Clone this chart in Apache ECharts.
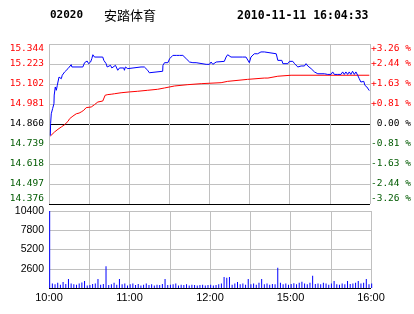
<!DOCTYPE html>
<html><head><meta charset="utf-8">
<script src="https://cdn.jsdelivr.net/npm/echarts@6/dist/echarts.min.js"></script>
<style>html,body{margin:0;padding:0;background:#fff}#c{width:414px;height:314px}</style>
</head><body><div id="c"></div>
<script>
// ---- data ----
var stockCode = '02020';
var stockName = '安踏体育';
var stamp = '2010-11-11 16:04:33';
var prevClose = 14.860;
var timeTicks = ['10:00', '', '11:00', '', '12:00', '', '15:00', '', '16:00'];
var priceTicks = ['14.376', '14.497', '14.618', '14.739', '14.860', '14.981', '15.102', '15.223', '15.344'];
var pctTicks = ['-3.26 %', '-2.44 %', '-1.63 %', '-0.81 %', ' 0.00 %', '+0.81 %', '+1.63 %', '+2.44 %', '+3.26 %'];
var volTicks = ['', '2600', '5200', '7800', '10400'];
// minute of session (0..240), price
var priceLine = [
 [1,14.79],[1.2,14.862],[1.7,14.922],[2.7,14.953],[3.7,14.983],[3.9,15.035],[4.2,15.043],[4.7,15.084],
 [5.5,15.064],[6.2,15.094],[6.7,15.114],[7.5,15.144],[8.2,15.149],[9.2,15.134],[9.9,15.155],[10.9,15.161],
 [11.7,15.175],[12.9,15.185],[14.2,15.195],[14.9,15.205],[16.6,15.219],[17.1,15.205],[25.3,15.205],
 [26.6,15.231],[27.8,15.225],[28.5,15.241],[29.6,15.225],[31.1,15.235],[32,15.255],[32.8,15.279],
 [34,15.265],[40.2,15.265],[41,15.245],[42.7,15.225],[43.5,15.205],[44.5,15.215],[46,15.215],[47,15.199],
 [48.4,15.199],[49.7,15.215],[50.7,15.205],[51.4,15.185],[52.7,15.199],[55.9,15.199],[56.4,15.185],
 [57.1,15.205],[58.9,15.195],[60.1,15.205],[68.8,15.205],[70,15.199],[71.3,15.205],[72.5,15.199],
 [73.8,15.185],[75,15.170],[76.2,15.179],[85,15.179],[85.2,15.215],[86.4,15.231],[87.7,15.241],
 [88.9,15.231],[90.2,15.255],[91.4,15.265],[92.6,15.275],[93.9,15.265],[95.2,15.275],[96.4,15.265],
 [97.6,15.275],[98.9,15.265],[100.1,15.275],[101.3,15.265],[102.6,15.255],[103.8,15.251],[105.1,15.235],
 [106.3,15.225],[107.6,15.231],[108.8,15.221],[110,15.231],[111.3,15.221],[117.5,15.221],[118.7,15.231],
 [120,15.221],[121.2,15.235],[122.5,15.221],[123.7,15.231],[125,15.235],[126.2,15.239],[131.1,15.239],
 [132.4,15.265],[133.6,15.279],[134.9,15.275],[136.1,15.265],[144.8,15.265],[146,15.255],[147.3,15.265],
 [148.5,15.265],[149.8,15.231],[150.5,15.219],[151,15.265],[152.3,15.275],[153.5,15.285],[156,15.285],
 [157.2,15.279],[158.5,15.296],[159.7,15.300],[161,15.296],[162.4,15.285],[169.9,15.285],[170.5,15.265],
 [171.1,15.245],[174.1,15.245],[174.9,15.225],[178.6,15.225],[179.8,15.239],[181,15.231],[182.3,15.239],
 [183.6,15.225],[184.8,15.215],[186.1,15.205],[187.3,15.215],[188.5,15.211],[189.8,15.219],[191,15.211],
 [192.2,15.225],[193.5,15.211],[194.7,15.205],[196,15.195],[197.2,15.185],[198.5,15.175],[199.7,15.175],
 [201,15.164],[202.2,15.175],[203.4,15.164],[204.7,15.175],[205.9,15.164],[207.1,15.175],[208.4,15.160],
 [210.9,15.160],[212.1,15.175],[213.4,15.160],[215.9,15.160],[218.3,15.160],[219.6,15.175],[220.8,15.160],
 [222,15.175],[223.3,15.160],[224.5,15.175],[225.7,15.160],[227,15.179],[228.3,15.160],[229.5,15.175],
 [230.8,15.155],[232,15.134],[233.2,15.114],[234.5,15.104],[235.4,15.118],[236.2,15.094],[237.7,15.084],
 [238.5,15.074],[239.5,15.062]
];
var avgLine = [
 [1,14.787],[4.2,14.812],[6.7,14.828],[9.2,14.842],[11.7,14.856],[14.2,14.876],[15.4,14.892],[17.9,14.908],
 [20.4,14.922],[22.5,14.926],[24.1,14.933],[26,14.943],[27.8,14.959],[31.6,14.963],[34,14.977],[36.5,14.993],
 [40.2,14.999],[42,15.034],[44,15.038],[46.5,15.040],[48.9,15.043],[53.9,15.049],[60.1,15.054],[66.3,15.058],
 [73.8,15.064],[81.2,15.070],[86.4,15.078],[93.9,15.090],[103.8,15.098],[113.8,15.104],[128.7,15.110],
 [133.6,15.118],[148.5,15.130],[161,15.138],[163.7,15.138],[165,15.149],[171.1,15.149],[172.4,15.153],
 [181,15.155],[239.5,15.155]
];
// volume per 2-minute step (minute = index*2)
var volumes = [
 10400,600,500,700,450,800,550,1200,600,500,450,600,750,950,350,400,550,600,1200,450,
 550,2950,400,500,700,450,1200,500,600,350,500,600,400,550,350,450,600,400,500,350,
 450,400,550,1200,400,450,500,600,350,450,400,500,350,450,400,350,400,450,350,400,
 450,350,400,500,600,1500,1400,1500,450,600,800,500,600,450,1200,500,600,450,700,1200,
 500,600,450,550,500,2750,700,500,600,450,550,650,500,700,850,600,500,700,1650,550,
 600,500,700,600,450,600,950,500,450,600,500,950,550,600,700,950,600,700,1200,500,600
];

// ---- chart ----
var GRAY = '#c0c0c0', RED = '#ff0000', GREEN = '#005a00';
function rel(p) { return Math.round((p - prevClose) * 100000) / 100; }
function tickIdx(v) { return Math.round((v + 484) / 121); }
function sideColor(v) { return v > 0.5 ? RED : (v < -0.5 ? GREEN : '#000'); }
var monoFont = 'DejaVu Sans Mono';

var chart = echarts.init(document.getElementById('c'), null, {renderer: 'canvas'});
chart.setOption({
  animation: false,
  backgroundColor: '#fff',
  title: [
    {text: stockCode, left: 50, top: 10, padding: 0, textStyle: {fontFamily: 'DejaVu Sans Mono', fontWeight: 'bold', fontSize: 11, color: '#000'}},
    {text: stockName, left: 104, top: 9, padding: 0, textStyle: {fontFamily: 'Noto Sans CJK SC', fontWeight: 'normal', fontSize: 13, color: '#000'}},
    {text: stamp, left: 237, top: 10, padding: 0, textStyle: {fontFamily: 'DejaVu Sans Mono', fontWeight: 'bold', fontSize: 11.5, color: '#000'}}
  ],
  grid: [
    {left: 49, top: 44, width: 322, height: 160},
    {left: 49, top: 211, width: 322, height: 77}
  ],
  xAxis: [
    {type: 'value', gridIndex: 0, min: 0, max: 240, interval: 30,
     axisLine: {show: false}, axisTick: {show: false}, axisLabel: {show: false},
     splitLine: {show: true, lineStyle: {color: GRAY, width: 1}}},
    {type: 'value', gridIndex: 1, min: 0, max: 240, interval: 30,
     axisLine: {show: false}, axisTick: {show: false},
     axisLabel: {show: true, margin: 4, fontFamily: 'Liberation Sans', fontSize: 11, color: '#000',
       formatter: function (v) { return timeTicks[Math.round(v / 30)] || ''; }},
     splitLine: {show: true, lineStyle: {color: GRAY, width: 1}}}
  ],
  yAxis: [
    {type: 'value', gridIndex: 0, position: 'left', min: -484, max: 484, interval: 121,
     axisLine: {show: false}, axisTick: {show: false},
     axisLabel: {margin: 5, fontFamily: monoFont, fontSize: 9.5,
       verticalAlignMaxLabel: 'top', verticalAlignMinLabel: 'bottom',
       formatter: function (v) { return priceTicks[tickIdx(v)]; },
       color: function (v) { return sideColor(v); }},
     splitLine: {show: true, lineStyle: {width: 1,
       color: ['#000', GRAY, GRAY, GRAY, '#000', GRAY, GRAY, GRAY, GRAY]}}},
    {type: 'value', gridIndex: 0, position: 'right', min: -484, max: 484, interval: 121,
     axisLine: {show: false}, axisTick: {show: false}, splitLine: {show: false},
     axisLabel: {margin: 1, fontFamily: monoFont, fontSize: 9.5,
       verticalAlignMaxLabel: 'top', verticalAlignMinLabel: 'bottom',
       formatter: function (v) { return pctTicks[tickIdx(v)]; },
       color: function (v) { return sideColor(v); }}},
    {type: 'value', gridIndex: 1, position: 'left', min: 0, max: 10400, interval: 2600,
     axisLine: {show: false}, axisTick: {show: false},
     axisLabel: {margin: 5, fontFamily: 'Liberation Sans', fontSize: 10.5, color: '#000',
       formatter: function (v) { return volTicks[Math.round(v / 2600)]; }},
     splitLine: {show: true, lineStyle: {width: 1, color: ['#000', GRAY, GRAY, GRAY, GRAY]}}}
  ],
  series: [
    {type: 'line', xAxisIndex: 0, yAxisIndex: 0, showSymbol: false, symbol: 'none', z: 3,
     lineStyle: {color: RED, width: 1}, itemStyle: {color: RED},
     data: avgLine.map(function (d) { return [d[0], rel(d[1])]; })},
    {type: 'line', xAxisIndex: 0, yAxisIndex: 0, showSymbol: false, symbol: 'none', z: 4,
     lineStyle: {color: '#0000ff', width: 1}, itemStyle: {color: '#0000ff'},
     data: priceLine.map(function (d) { return [d[0], rel(d[1])]; })},
    {type: 'bar', xAxisIndex: 1, yAxisIndex: 2, barWidth: 1, z: 3,
     itemStyle: {color: '#0000ff'},
     data: volumes.map(function (v, i) { return [i * 2 + 0.5, v]; })}
  ]
});
</script></body></html>
